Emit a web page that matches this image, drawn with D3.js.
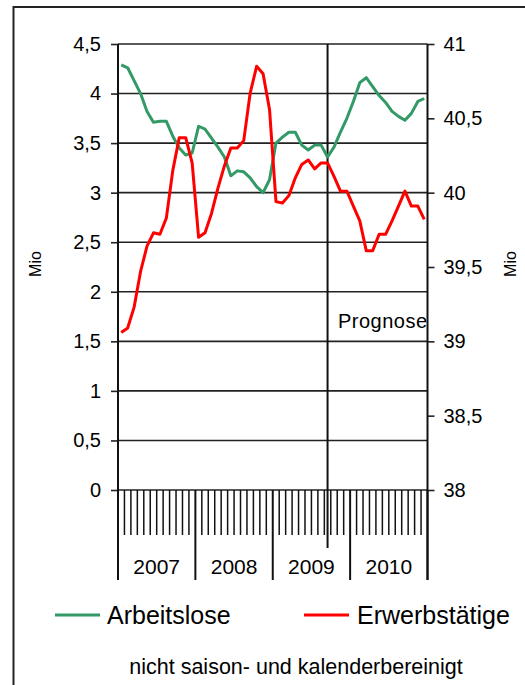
<!DOCTYPE html>
<html>
<head>
<meta charset="utf-8">
<script src="https://cdn.jsdelivr.net/npm/d3@7"></script>
<style>
  html, body { margin: 0; padding: 0; background: #fff; }
  svg { display: block; }
  text { font-family: Arial, "Liberation Sans", sans-serif; fill: #000; }
</style>
</head>
<body>
<script>
// ---- data ----
const years = ["2007", "2008", "2009", "2010"];
const monthNames = ["01","02","03","04","05","06","07","08","09","10","11","12"];
const categories = years.flatMap(y => monthNames.map(m => y + "-" + m));

// Arbeitslose (left axis, Mio)
const arbeitslose = [
  4.29, 4.26, 4.13, 4.00, 3.82, 3.71, 3.72, 3.72, 3.57, 3.45, 3.38, 3.40,
  3.67, 3.64, 3.55, 3.46, 3.36, 3.17, 3.22, 3.21, 3.15, 3.06, 3.00, 3.13,
  3.50, 3.56, 3.61, 3.61, 3.48, 3.43, 3.48, 3.48, 3.36, 3.46, 3.61, 3.75,
  3.92, 4.11, 4.16, 4.07, 3.98, 3.91, 3.82, 3.77, 3.73, 3.80, 3.92, 3.95
];
// Erwerbstätige (right axis, Mio)
const erwerbstaetige = [
  39.06, 39.09, 39.23, 39.47, 39.64, 39.73, 39.72, 39.83, 40.15, 40.37, 40.37, 40.20,
  39.70, 39.73, 39.86, 40.03, 40.18, 40.30, 40.30, 40.35, 40.67, 40.85, 40.80, 40.56,
  39.94, 39.93, 39.98, 40.10, 40.19, 40.22, 40.16, 40.20, 40.20, 40.11, 40.01, 40.01,
  39.91, 39.81, 39.61, 39.61, 39.72, 39.72, 39.81, 39.91, 40.01, 39.91, 39.91, 39.82
];
const leftTicks = [0, 0.5, 1, 1.5, 2, 2.5, 3, 3.5, 4, 4.5];
const rightTicks = [38, 38.5, 39, 39.5, 40, 40.5, 41];
const prognoseStart = "2009-09";
const seriesNames = ["Arbeitslose", "Erwerbstätige"];
const unitLabel = "Mio";
const prognoseLabel = "Prognose";
const footnote = "nicht saison- und kalenderbereinigt";

// ---- layout ----
const W = 525, H = 685;
const plot = { left: 118, right: 427.5, top: 44, bottom: 490 };
const green = "#339966", red = "#ff0000";
const fmt = v => String(v).replace(".", ",");

const svg = d3.select("body").append("svg").attr("width", W).attr("height", H);

// outer frame
svg.append("rect").attr("x", 13.5).attr("y", 7).attr("width", 700).attr("height", 800)
  .attr("fill", "none").attr("stroke", "#222").attr("stroke-width", 2);

const x = d3.scaleBand().domain(categories).range([plot.left, plot.right]);
const yL = d3.scaleLinear().domain([0, 4.5]).range([plot.bottom, plot.top]);
const yR = d3.scaleLinear().domain([38, 41]).range([plot.bottom, plot.top]);
const cx = c => x(c) + x.bandwidth() / 2;

// horizontal gridlines
svg.append("g").selectAll("line").data(leftTicks).join("line")
  .attr("x1", plot.left).attr("x2", plot.right)
  .attr("y1", d => yL(d)).attr("y2", d => yL(d))
  .attr("stroke", "#222").attr("stroke-width", 1.6);

// left axis
const gL = svg.append("g").attr("transform", `translate(${plot.left},0)`)
  .call(d3.axisLeft(yL).tickValues(leftTicks).tickFormat(fmt).tickSize(7).tickPadding(10));
gL.select(".domain").remove();
gL.selectAll(".tick line").attr("stroke", "#222").attr("stroke-width", 1.6);
gL.selectAll("text").attr("font-size", 20).attr("font-family", "Arial, 'Liberation Sans', sans-serif");

// right axis
const gR = svg.append("g").attr("transform", `translate(${plot.right},0)`)
  .call(d3.axisRight(yR).tickValues(rightTicks).tickFormat(fmt).tickSize(7).tickPadding(9));
gR.select(".domain").remove();
gR.selectAll(".tick line").attr("stroke", "#222").attr("stroke-width", 1.6);
gR.selectAll("text").attr("font-size", 20).attr("font-family", "Arial, 'Liberation Sans', sans-serif");

// vertical axis lines (extend down as year separators)
[plot.left, plot.right].forEach(px => {
  svg.append("line").attr("x1", px).attr("x2", px).attr("y1", plot.top).attr("y2", 580)
    .attr("stroke", "#111").attr("stroke-width", 2);
});

// month ticks and year separators
const boundaries = d3.range(categories.length + 1);
svg.append("g").selectAll("line").data(boundaries).join("line")
  .attr("x1", i => plot.left + i * x.step()).attr("x2", i => plot.left + i * x.step())
  .attr("y1", plot.bottom).attr("y2", i => (i % 12 === 0) ? 580 : 535)
  .attr("stroke", "#111").attr("stroke-width", i => (i % 12 === 0) ? 2 : 1.5);

// year labels
svg.append("g").selectAll("text").data(years).join("text")
  .attr("x", (d, i) => plot.left + (i * 12 + 6) * x.step())
  .attr("y", 574).attr("text-anchor", "middle").attr("font-size", 21).text(d => d);

// prognose line
svg.append("line").attr("x1", cx(prognoseStart)).attr("x2", cx(prognoseStart))
  .attr("y1", plot.top).attr("y2", 548).attr("stroke", "#111").attr("stroke-width", 2);
svg.append("text").attr("x", 338).attr("y", 328).attr("font-size", 20)
  .attr("textLength", 89).text(prognoseLabel);

// lines
const lineL = d3.line().x((d, i) => cx(categories[i])).y(d => yL(d));
const lineR = d3.line().x((d, i) => cx(categories[i])).y(d => yR(d));
svg.append("path").datum(arbeitslose).attr("d", lineL)
  .attr("fill", "none").attr("stroke", green).attr("stroke-width", 3).attr("stroke-linejoin", "round");
svg.append("path").datum(erwerbstaetige).attr("d", lineR)
  .attr("fill", "none").attr("stroke", red).attr("stroke-width", 3).attr("stroke-linejoin", "round");

// axis titles
svg.append("text").attr("transform", "translate(41,264) rotate(-90)")
  .attr("text-anchor", "middle").attr("font-size", 16).text(unitLabel);
svg.append("text").attr("transform", "translate(516,264) rotate(-90)")
  .attr("text-anchor", "middle").attr("font-size", 16).text(unitLabel);

// legend
const legend = [
  { name: seriesNames[0], color: green, x1: 55, x2: 100, tx: 107 },
  { name: seriesNames[1], color: red, x1: 304, x2: 349, tx: 357 }
];
legend.forEach(l => {
  svg.append("line").attr("x1", l.x1).attr("x2", l.x2).attr("y1", 615).attr("y2", 615)
    .attr("stroke", l.color).attr("stroke-width", 3);
  svg.append("text").attr("x", l.tx).attr("y", 624).attr("font-size", 25).text(l.name);
});

// footnote
svg.append("text").attr("x", 296).attr("y", 674).attr("text-anchor", "middle")
  .attr("font-size", 21.5).text(footnote);
</script>
</body>
</html>
